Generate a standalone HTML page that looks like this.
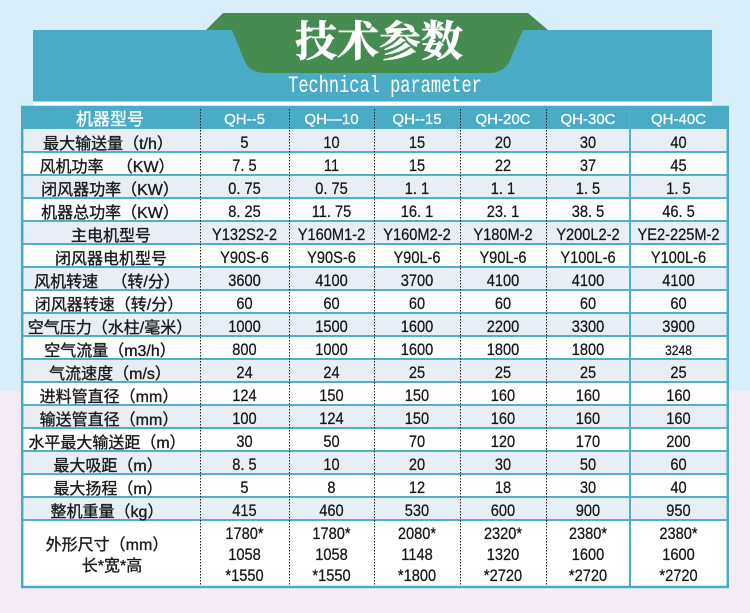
<!DOCTYPE html>
<html>
<head>
<meta charset="utf-8">
<style>
html,body{margin:0;padding:0;}
body{width:750px;height:613px;overflow:hidden;background:#d9eefb;}
svg{display:block;}
.lb{font-family:"Liberation Sans","Noto Sans CJK SC",sans-serif;font-size:16px;fill:#1a1a1a;stroke:#1a1a1a;stroke-width:0.35px;text-anchor:middle;}
.v{font-family:"Liberation Sans","Noto Sans CJK SC",sans-serif;font-size:17px;fill:#151515;stroke:#151515;stroke-width:0.25px;text-anchor:middle;}
.hd{font-family:"Liberation Sans","Noto Sans CJK SC",sans-serif;font-size:15px;fill:#fff;stroke:#fff;stroke-width:0.25px;text-anchor:middle;}
</style>
</head>
<body>
<svg width="750" height="613" viewBox="0 0 750 613" xmlns="http://www.w3.org/2000/svg">
  <rect x="0" y="0" width="750" height="391" fill="#d9eefb"/>
  <rect x="0" y="391" width="750" height="222" fill="#f4ecf5"/>

  <!-- banner -->
  <rect x="33" y="30" width="679" height="76" fill="#ffffff"/>
  <rect x="33" y="30" width="679" height="71.5" fill="#4aabc6"/>
  <path d="M223,13 L528,13 L548,30 L523,30 L509,62 Q503,73 489,73 L266,73 Q251,73 245,62 L232,30 L206,30 Z" fill="#468b50"/>
  <text x="379" y="56" font-family="'Noto Serif CJK SC','Noto Serif CJK JP','Noto Serif CJK TC',serif" font-weight="bold" font-size="42" fill="#ffffff" stroke="#ffffff" stroke-width="0.6" text-anchor="middle">技术参数</text>
  <text transform="translate(385,92) scale(1,1.35)" x="0" y="0" font-family="'Liberation Mono',monospace" font-size="17" fill="#ffffff" text-anchor="middle">Technical parameter</text>

  <!-- table background -->
  <rect x="21" y="106" width="708" height="482" fill="#ffffff"/>
  <rect x="21" y="106" width="708" height="23" fill="#4aabc6"/>
  <g fill="#e7eef5">
    <rect x="21" y="129" width="708" height="23"/>
    <rect x="21" y="175" width="708" height="23"/>
    <rect x="21" y="221" width="708" height="23"/>
    <rect x="21" y="267" width="708" height="23"/>
    <rect x="21" y="313" width="708" height="23"/>
    <rect x="21" y="359" width="708" height="23"/>
    <rect x="21" y="405" width="708" height="23"/>
    <rect x="21" y="451" width="708" height="23"/>
    <rect x="21" y="497" width="708" height="23"/>
  </g>
  <!-- horizontal lines -->
  <g stroke="#52aecb" stroke-width="2">
    <line x1="21" y1="152" x2="729" y2="152"/>
    <line x1="21" y1="175" x2="729" y2="175"/>
    <line x1="21" y1="198" x2="729" y2="198"/>
    <line x1="21" y1="221" x2="729" y2="221"/>
    <line x1="21" y1="244" x2="729" y2="244"/>
    <line x1="21" y1="267" x2="729" y2="267"/>
    <line x1="21" y1="290" x2="729" y2="290"/>
    <line x1="21" y1="313" x2="729" y2="313"/>
    <line x1="21" y1="336" x2="729" y2="336"/>
    <line x1="21" y1="359" x2="729" y2="359"/>
    <line x1="21" y1="382" x2="729" y2="382"/>
    <line x1="21" y1="405" x2="729" y2="405"/>
    <line x1="21" y1="428" x2="729" y2="428"/>
    <line x1="21" y1="451" x2="729" y2="451"/>
    <line x1="21" y1="474" x2="729" y2="474"/>
    <line x1="21" y1="497" x2="729" y2="497"/>
    <line x1="21" y1="520" x2="729" y2="520"/>
  </g>
  <!-- vertical lines -->
  <g stroke="#1e1e1e" stroke-width="1" stroke-dasharray="1.5 1.5">
    <line x1="200.5" y1="106" x2="200.5" y2="588"/>
    <line x1="289.5" y1="106" x2="289.5" y2="588"/>
    <line x1="374.5" y1="106" x2="374.5" y2="588"/>
    <line x1="460.5" y1="106" x2="460.5" y2="588"/>
    <line x1="546.5" y1="106" x2="546.5" y2="588"/>
  </g>
  <line x1="630" y1="106" x2="630" y2="588" stroke="#52aecb" stroke-width="2"/>
  <rect x="22.2" y="107" width="705.6" height="480" fill="none" stroke="#4aabc6" stroke-width="2.5"/>

  <!-- header -->
  <text class="lb" x="110" y="125" style="fill:#fff;stroke:#fff;font-size:17px">机器型号</text>
  <text class="hd" x="244.5" y="124">QH--5</text>
  <text class="hd" x="331.5" y="124">QH—10</text>
  <text class="hd" x="417" y="124">QH--15</text>
  <text class="hd" x="503" y="124">QH-20C</text>
  <text class="hd" x="588" y="124">QH-30C</text>
  <text class="hd" x="678.5" y="124">QH-40C</text>

  <!-- labels -->
  <g class="lb">
    <text x="108" y="149">最大输送量（t/h）</text>
    <text x="107" y="172">风机功率&#160;&#160;&#160;（KW）</text>
    <text x="110" y="195">闭风器功率（KW）</text>
    <text x="110" y="218">机器总功率（KW）</text>
    <text x="111" y="241">主电机型号</text>
    <text x="111" y="264">闭风器电机型号</text>
    <text x="107" y="287">风机转速&#160;&#160;&#160;（转/分）</text>
    <text x="109" y="310">闭风器转速（转/分）</text>
    <text x="110" y="333">空气压力（水柱/毫米）</text>
    <text x="110" y="356">空气流量（m3/h）</text>
    <text x="110" y="379">气流速度（m/s）</text>
    <text x="109" y="402">进料管直径（mm）</text>
    <text x="109" y="425">输送管直径（mm）</text>
    <text x="107" y="448">水平最大输送距（m）</text>
    <text x="108" y="471">最大吸距（m）</text>
    <text x="108" y="494">最大扬程（m）</text>
    <text x="107" y="517">整机重量（kg）</text>
    <text x="107" y="550">外形尺寸（mm）</text>
    <text x="112" y="571">长*宽*高</text>
  </g>

  <!-- column 1 -->
  <g transform="translate(244.5,0) scale(0.86,1)" class="v">
    <text x="0" y="148">5</text>
    <text x="0" y="171">7. 5</text>
    <text x="0" y="194">0. 75</text>
    <text x="0" y="217">8. 25</text>
    <text x="0" y="240">Y132S2-2</text>
    <text x="0" y="263">Y90S-6</text>
    <text x="0" y="286">3600</text>
    <text x="0" y="309">60</text>
    <text x="0" y="332">1000</text>
    <text x="0" y="355">800</text>
    <text x="0" y="378">24</text>
    <text x="0" y="401">124</text>
    <text x="0" y="424">100</text>
    <text x="0" y="447">30</text>
    <text x="0" y="470">8. 5</text>
    <text x="0" y="493">5</text>
    <text x="0" y="516">415</text>
    <text x="0" y="539">1780*</text>
    <text x="0" y="560">1058</text>
    <text x="0" y="581">*1550</text>
  </g>
  <!-- column 2 -->
  <g transform="translate(331.5,0) scale(0.86,1)" class="v">
    <text x="0" y="148">10</text>
    <text x="0" y="171">11</text>
    <text x="0" y="194">0. 75</text>
    <text x="0" y="217">11. 75</text>
    <text x="0" y="240">Y160M1-2</text>
    <text x="0" y="263">Y90S-6</text>
    <text x="0" y="286">4100</text>
    <text x="0" y="309">60</text>
    <text x="0" y="332">1500</text>
    <text x="0" y="355">1000</text>
    <text x="0" y="378">24</text>
    <text x="0" y="401">150</text>
    <text x="0" y="424">124</text>
    <text x="0" y="447">50</text>
    <text x="0" y="470">10</text>
    <text x="0" y="493">8</text>
    <text x="0" y="516">460</text>
    <text x="0" y="539">1780*</text>
    <text x="0" y="560">1058</text>
    <text x="0" y="581">*1550</text>
  </g>
  <!-- column 3 -->
  <g transform="translate(417,0) scale(0.86,1)" class="v">
    <text x="0" y="148">15</text>
    <text x="0" y="171">15</text>
    <text x="0" y="194">1. 1</text>
    <text x="0" y="217">16. 1</text>
    <text x="0" y="240">Y160M2-2</text>
    <text x="0" y="263">Y90L-6</text>
    <text x="0" y="286">3700</text>
    <text x="0" y="309">60</text>
    <text x="0" y="332">1600</text>
    <text x="0" y="355">1600</text>
    <text x="0" y="378">25</text>
    <text x="0" y="401">150</text>
    <text x="0" y="424">150</text>
    <text x="0" y="447">70</text>
    <text x="0" y="470">20</text>
    <text x="0" y="493">12</text>
    <text x="0" y="516">530</text>
    <text x="0" y="539">2080*</text>
    <text x="0" y="560">1148</text>
    <text x="0" y="581">*1800</text>
  </g>
  <!-- column 4 -->
  <g transform="translate(503,0) scale(0.86,1)" class="v">
    <text x="0" y="148">20</text>
    <text x="0" y="171">22</text>
    <text x="0" y="194">1. 1</text>
    <text x="0" y="217">23. 1</text>
    <text x="0" y="240">Y180M-2</text>
    <text x="0" y="263">Y90L-6</text>
    <text x="0" y="286">4100</text>
    <text x="0" y="309">60</text>
    <text x="0" y="332">2200</text>
    <text x="0" y="355">1800</text>
    <text x="0" y="378">25</text>
    <text x="0" y="401">160</text>
    <text x="0" y="424">160</text>
    <text x="0" y="447">120</text>
    <text x="0" y="470">30</text>
    <text x="0" y="493">18</text>
    <text x="0" y="516">600</text>
    <text x="0" y="539">2320*</text>
    <text x="0" y="560">1320</text>
    <text x="0" y="581">*2720</text>
  </g>
  <!-- column 5 -->
  <g transform="translate(588,0) scale(0.86,1)" class="v">
    <text x="0" y="148">30</text>
    <text x="0" y="171">37</text>
    <text x="0" y="194">1. 5</text>
    <text x="0" y="217">38. 5</text>
    <text x="0" y="240">Y200L2-2</text>
    <text x="0" y="263">Y100L-6</text>
    <text x="0" y="286">4100</text>
    <text x="0" y="309">60</text>
    <text x="0" y="332">3300</text>
    <text x="0" y="355">1800</text>
    <text x="0" y="378">25</text>
    <text x="0" y="401">160</text>
    <text x="0" y="424">160</text>
    <text x="0" y="447">170</text>
    <text x="0" y="470">50</text>
    <text x="0" y="493">30</text>
    <text x="0" y="516">900</text>
    <text x="0" y="539">2380*</text>
    <text x="0" y="560">1600</text>
    <text x="0" y="581">*2720</text>
  </g>
  <!-- column 6 -->
  <g transform="translate(678.5,0) scale(0.86,1)" class="v">
    <text x="0" y="148">40</text>
    <text x="0" y="171">45</text>
    <text x="0" y="194">1. 5</text>
    <text x="0" y="217">46. 5</text>
    <text x="0" y="240">YE2-225M-2</text>
    <text x="0" y="263">Y100L-6</text>
    <text x="0" y="286">4100</text>
    <text x="0" y="309">60</text>
    <text x="0" y="332">3900</text>
    <text x="0" y="355" style="font-size:14px">3248</text>
    <text x="0" y="378">25</text>
    <text x="0" y="401">160</text>
    <text x="0" y="424">160</text>
    <text x="0" y="447">200</text>
    <text x="0" y="470">60</text>
    <text x="0" y="493">40</text>
    <text x="0" y="516">950</text>
    <text x="0" y="539">2380*</text>
    <text x="0" y="560">1600</text>
    <text x="0" y="581">*2720</text>
  </g>
</svg>
</body>
</html>
